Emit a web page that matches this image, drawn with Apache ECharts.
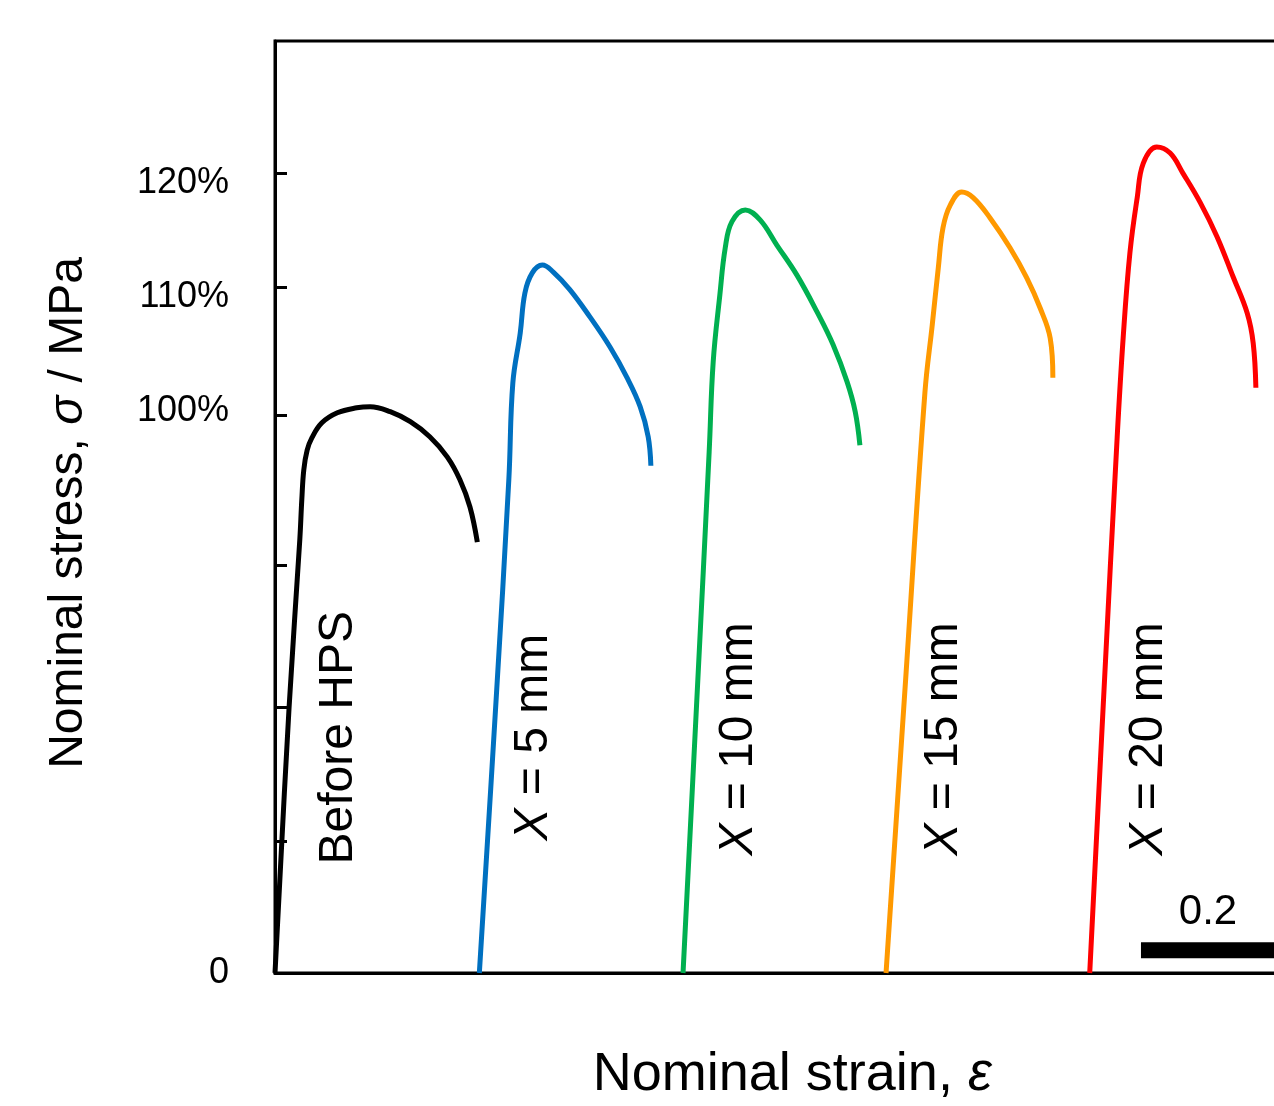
<!DOCTYPE html>
<html>
<head>
<meta charset="utf-8">
<script src="https://cdn.jsdelivr.net/npm/echarts@6/dist/echarts.min.js"></script>
<style>
  html, body { margin: 0; padding: 0; background: #fff; }
  #chart { width: 1274px; height: 1106px; }
</style>
</head>
<body>
<div id="chart"></div>
<script>
// curves: strain (x), stress in % of the untreated peak (y)
var beforeStrain = [0, 0.021, 0.037, 0.040, 0.043, 0.048, 0.055, 0.070, 0.093, 0.122, 0.142, 0.172, 0.202, 0.231, 0.257, 0.276, 0.291, 0.302]
var beforeStress = [0, 47.6, 77.7, 84.9, 90.3, 93.8, 96.0, 98.7, 100.5, 101.4, 101.6, 100.7, 98.9, 96.2, 92.6, 88.5, 83.6, 77.3]

var x5Strain = [0.305, 0.330, 0.349, 0.355, 0.366, 0.373, 0.384, 0.399, 0.415, 0.440, 0.470, 0.500, 0.525, 0.545, 0.557, 0.561]
var x5Stress = [0, 49.0, 88.5, 105.9, 114.8, 122.0, 125.6, 127.0, 125.8, 122.6, 117.7, 112.3, 106.9, 101.6, 96.2, 91.0]

var x10Strain = [0.609, 0.630, 0.648, 0.654, 0.664, 0.672, 0.682, 0.702, 0.724, 0.749, 0.779, 0.809, 0.833, 0.854, 0.866, 0.873]
var x10Stress = [0, 50.0, 93.5, 109.6, 121.7, 130.1, 134.8, 136.9, 135.1, 130.6, 125.2, 118.6, 112.7, 106.0, 100.7, 94.7]

var x15Strain = [0.912, 0.942, 0.970, 0.981, 0.990, 0.997, 1.008, 1.025, 1.042, 1.067, 1.097, 1.122, 1.142, 1.157, 1.161]
var x15Stress = [0, 54.0, 104.1, 116.3, 126.5, 133.7, 137.8, 140.1, 139.1, 135.5, 130.1, 124.7, 119.3, 113.9, 106.8]

var x20Strain = [1.216, 1.237, 1.257, 1.266, 1.276, 1.287, 1.296, 1.316, 1.336, 1.355, 1.381, 1.406, 1.430, 1.451, 1.460, 1.464]
var x20Stress = [0, 50.0, 96.2, 114.1, 129.2, 139.2, 145.3, 148.2, 147.1, 143.5, 138.2, 132.1, 124.9, 118.4, 113.0, 105.0]

var curveNames = ['Before HPS', 'X = 5 mm', 'X = 10 mm', 'X = 15 mm', 'X = 20 mm']
var curveColors = ['#000000', '#0070C0', '#00B050', '#FF9900', '#FF0000']

// y ticks and labels (the figure spaces them unevenly)
var yTickValues = [23.7, 47.6, 73.2, 100, 123.1, 143.4]
var yLabelValues = [0, 100.8, 121.3, 141.8]
var yLabelTexts = ['0', '100%', '110%', '120%']

// curve names written along the rising parts
var noteX = [0.0955, 0.3866, 0.6926, 0.9985, 1.3045]
var noteY = [42.2, 42.3, 42.0, 42.0, 42.0]

// scale bar
var barStrain = [1.2925, 1.4925]
var barStress = [4.1, 4.1]
var barText = '0.2'
var barTextPos = [1.3925, 10.9]

function pairs(xs, ys) {
  return xs.map(function (x, i) { return [x, ys[i]] })
}

var curves = [
  pairs(beforeStrain, beforeStress),
  pairs(x5Strain, x5Stress),
  pairs(x10Strain, x10Stress),
  pairs(x15Strain, x15Stress),
  pairs(x20Strain, x20Stress)
]

var font = 'Liberation Sans, Arial, sans-serif'

var series = curves.map(function (d, i) {
  return {
    name: curveNames[i],
    type: 'line',
    data: d,
    symbol: 'none',
    smooth: 0.4,
    lineStyle: { color: curveColors[i], width: 5 },
    z: 3
  }
})

series.push({
  type: 'line',
  data: pairs(barStrain, barStress),
  symbol: 'none',
  lineStyle: { color: '#000', width: 16, cap: 'butt' },
  z: 3
})

series.push({
  type: 'scatter',
  symbolSize: 0,
  itemStyle: { opacity: 1 },
  data: noteX.map(function (x, i) {
    var n = curveNames[i]
    var txt = n.indexOf('X') === 0 ? '{i|X}' + n.slice(1) : n
    return { value: [x, noteY[i]], label: { formatter: txt } }
  }).concat([{ value: barTextPos, label: { formatter: barText, rotate: 0, fontSize: 42 } }]),
  label: {
    show: true,
    position: 'inside',
    rotate: 90,
    color: '#000',
    opacity: 1,
    textBorderWidth: 0,
    fontFamily: font,
    fontSize: 48,
    rich: {
      i: { fontStyle: 'italic', fontFamily: font, fontSize: 48, color: '#000' }
    }
  },
  z: 4
})

var chart = echarts.init(document.getElementById('chart'))
chart.setOption({
  backgroundColor: '#fff',
  animation: false,
  grid: {
    left: 275,
    top: 41,
    bottom: 133,
    width: 1018.4,
    outerBoundsMode: 'none',
    containLabel: false,
    show: true,
    borderColor: '#000',
    borderWidth: 3
  },
  xAxis: {
    type: 'value',
    min: 0,
    max: 1.52,
    name: 'Nominal strain, {i|ε}',
    nameLocation: 'middle',
    nameGap: 75,
    nameTextStyle: {
      fontFamily: font,
      fontSize: 54,
      color: '#000',
      padding: [0, 0, 0, 16],
      rich: { i: { fontStyle: 'italic', fontFamily: font, fontSize: 54, color: '#000' } }
    },
    axisLine: { lineStyle: { color: '#000', width: 3 } },
    axisTick: { show: false },
    axisLabel: { show: false },
    splitLine: { show: false }
  },
  yAxis: {
    type: 'value',
    min: 0,
    max: 167.2,
    name: 'Nominal stress, {i|σ} / MPa',
    nameLocation: 'middle',
    nameGap: 182,
    nameTextStyle: {
      fontFamily: font,
      fontSize: 48,
      color: '#000',
      padding: [0, 12, 0, 0],
      rich: { i: { fontStyle: 'italic', fontFamily: font, fontSize: 48, color: '#000' } }
    },
    axisLine: { show: true, lineStyle: { color: '#000', width: 3 } },
    axisTick: {
      show: true,
      inside: true,
      length: 12,
      customValues: yTickValues,
      lineStyle: { color: '#000', width: 3 }
    },
    axisLabel: {
      customValues: yLabelValues,
      margin: 46,
      fontFamily: font,
      fontSize: 36,
      color: '#000',
      formatter: function (v) {
        var k = yLabelValues.indexOf(v)
        return k >= 0 ? yLabelTexts[k] : ''
      }
    },
    splitLine: { show: false }
  },
  series: series
})
</script>
</body>
</html>
